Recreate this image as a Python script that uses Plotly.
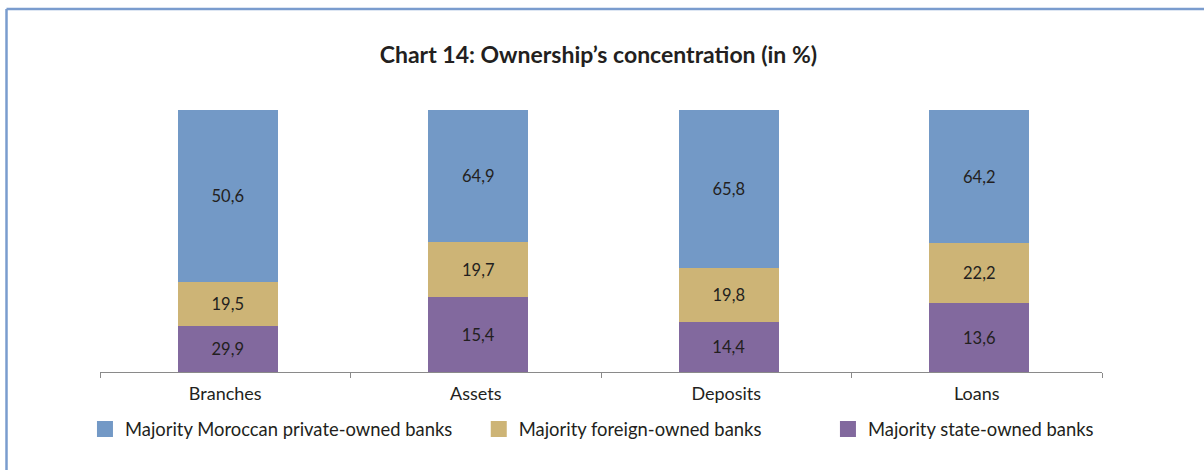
import plotly.graph_objects as go

categories = ["Branches", "Assets", "Deposits", "Loans"]
series_names = ["Majority state-owned banks", "Majority foreign-owned banks",
                "Majority Moroccan private-owned banks"]
# bar heights as drawn in the picture (stacked, %)
state_heights = [17.6, 28.6, 19.1, 26.3]
foreign_heights = [16.8, 21.0, 20.6, 22.9]
private_heights = [65.6, 50.4, 60.3, 50.8]
# printed data labels
state_labels = ["29,9", "15,4", "14,4", "13,6"]
foreign_labels = ["19,5", "19,7", "19,8", "22,2"]
private_labels = ["50,6", "64,9", "65,8", "64,2"]

colors = ["#82699E", "#CDB476", "#7399C6"]
FONT = "Lato, sans-serif"
TXT = "#231f20"

fig = go.Figure()
for name, h, lab, col in zip(series_names,
                             [state_heights, foreign_heights, private_heights],
                             [state_labels, foreign_labels, private_labels],
                             colors):
    fig.add_trace(go.Bar(x=categories, y=h, text=lab, name=name,
                         marker=dict(color=col, line=dict(width=0)),
                         width=0.40, offset=-0.19,
                         textposition="inside", insidetextanchor="middle",
                         textangle=0, constraintext="none",
                         textfont=dict(family=FONT, size=16.5, color=TXT),
                         hoverinfo="skip", showlegend=False))

# legend entries (order as in picture)
leg_ids = ["legend", "legend2", "legend3"]
leg_order = [2, 1, 0]
for lid, idx in zip(leg_ids, leg_order):
    fig.add_trace(go.Scatter(x=[None], y=[None], mode="markers", name=series_names[idx],
                             marker=dict(symbol="square", size=16, color=colors[idx]),
                             legend=lid, showlegend=True))

leg_common = dict(orientation="h", yanchor="middle", y=-0.2176, xanchor="left",
                  font=dict(family=FONT, size=18.4, color=TXT), bgcolor="rgba(0,0,0,0)",
                  itemsizing="trace", itemwidth=30, tracegroupgap=0)
fig.update_layout(
    legend=dict(x=-0.015, **leg_common),
    legend2=dict(x=0.378, **leg_common),
    legend3=dict(x=0.7265, **leg_common),
)

fig.update_layout(
    barmode="stack",
    width=1204, height=470,
    margin=dict(l=100, r=102, t=110, b=98),
    paper_bgcolor="white", plot_bgcolor="white",
    title=dict(text="<b>Chart 14: Ownership\u2019s concentration (in %)</b>",
               x=0.497, xanchor="center", y=1 - 55 / 470, yanchor="middle",
               font=dict(family=FONT, size=23, color=TXT, weight="bold")),
    xaxis=dict(type="category", showline=True, linecolor="#8a8a8a", linewidth=1,
               ticks="outside", tickson="boundaries", ticklen=5, tickcolor="#8a8a8a",
               ticklabelstandoff=5,
               tickfont=dict(family=FONT, size=18, color=TXT), showgrid=False,
               fixedrange=True),
    yaxis=dict(range=[0, 100], visible=False, showgrid=False, fixedrange=True),
    showlegend=True,
)

# frame (left and top edges)
fig.add_shape(type="line", xref="paper", yref="paper",
              x0=(6.5 - 100) / 1002, y0=(372 - 470) / 262,
              x1=(6.5 - 100) / 1002, y1=(372 - 9) / 262,
              line=dict(color="#7A9CCE", width=2.5))
fig.add_shape(type="line", xref="paper", yref="paper",
              x0=(6.5 - 100) / 1002, y0=(372 - 9) / 262,
              x1=(1204 - 100) / 1002, y1=(372 - 9) / 262,
              line=dict(color="#7A9CCE", width=2.5))

fig.write_html("out.html", config={"displayModeBar": False},
               post_script="document.body.style.margin='0';"
                           "document.documentElement.style.overflow='hidden';")
